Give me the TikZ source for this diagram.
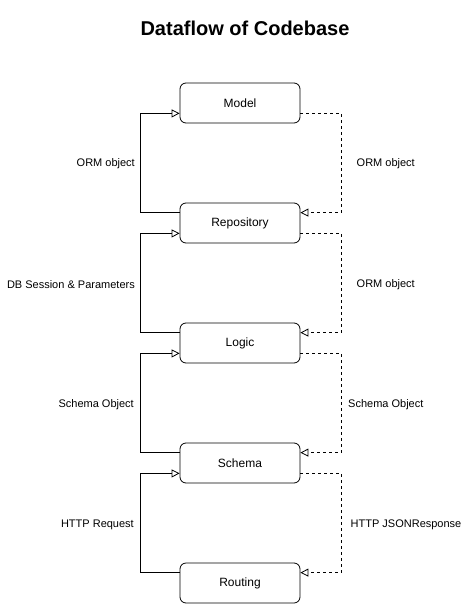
\documentclass[tikz,border=0pt]{standalone}
\usepackage{fontspec}
\setmainfont{Liberation Sans}
\usetikzlibrary{arrows.meta}
\begin{document}
\begin{tikzpicture}[x=1pt,y=-1pt,
  box/.style={draw,rounded corners=6pt,minimum width=120pt,minimum height=40pt,inner sep=0pt,font=\fontsize{12}{14}\selectfont,line width=0.8pt},
  lbl/.style={font=\fontsize{11}{13}\selectfont,inner sep=0pt},
  solidarr/.style={line width=0.8pt,-{Triangle[open,length=8pt,width=8pt]}},
  dasharr/.style={line width=0.8pt,dashed,dash pattern=on 3pt off 3pt,-{Triangle[open,length=8pt,width=8pt]}}]
\useasboundingbox (0,0) rectangle (472,604);
\node[font=\fontsize{20}{24}\selectfont\bfseries] (title) at (245,28) {Dataflow of Codebase};
\node[box] (model) at (240,103) {Model};
\node[box] (repo) at (240,223) {Repository};
\node[box] (logic) at (240,343) {Logic};
\node[box] (schema) at (240,463) {Schema};
\node[box] (routing) at (240,583) {Routing};
% left solid connectors
\draw[solidarr] ([yshift=-10pt]repo.north west) -- ++(-39,0) |- ([yshift=10pt]model.south west);
\draw[solidarr] ([yshift=-10pt]logic.north west) -- ++(-39,0) |- ([yshift=10pt]repo.south west);
\draw[solidarr] ([yshift=-10pt]schema.north west) -- ++(-39,0) |- ([yshift=10pt]logic.south west);
\draw[solidarr] ([yshift=-10pt]routing.north west) -- ++(-39,0) |- ([yshift=10pt]schema.south west);
% right dashed connectors
\draw[dasharr] ([yshift=10pt]model.south east) -- ++(41,0) |- ([yshift=-10pt]repo.north east);
\draw[dasharr] ([yshift=10pt]repo.south east) -- ++(41,0) |- ([yshift=-10pt]logic.north east);
\draw[dasharr] ([yshift=10pt]logic.south east) -- ++(41,0) |- ([yshift=-10pt]schema.north east);
\draw[dasharr] ([yshift=10pt]schema.south east) -- ++(41,0) |- ([yshift=-10pt]routing.north east);
% labels
\node[lbl,anchor=east] (l1) at (135,164) {ORM object};
\node[lbl,anchor=east] (l2) at (135,285) {DB Session \& Parameters};
\node[lbl,anchor=east] (l3) at (134,405) {Schema Object};
\node[lbl,anchor=east] (l4) at (134,525) {HTTP Request};
\node[lbl,anchor=west] (r1) at (356.5,164) {ORM object};
\node[lbl,anchor=west] (r2) at (356.5,285) {ORM object};
\node[lbl,anchor=west] (r3) at (348,405) {Schema Object};
\node[lbl,anchor=west] (r4) at (350.5,525) {HTTP JSONResponse};
\end{tikzpicture}
\end{document}
